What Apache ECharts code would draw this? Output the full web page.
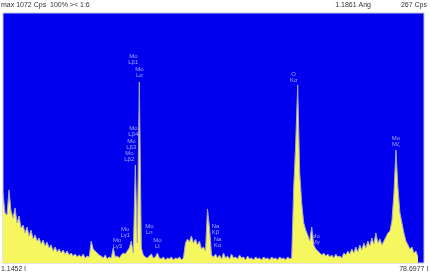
<!DOCTYPE html>
<html>
<head>
<meta charset="utf-8">
<script src="https://cdn.jsdelivr.net/npm/echarts@6/dist/echarts.min.js"></script>
<style>
html,body{margin:0;padding:0;background:#ffffff;}
#chart{width:430px;height:275px;}
</style>
</head>
<body>
<div id="chart"></div>
<script>
// Spectrum counts (Cps) per channel
const counts = [
 414,296,284,432,308,266,326,237,278,207,225,178,213,160,195,142,166,130,148,112,
 136,101,124,89,107,71,95,65,83,59,77,53,71,47,59,41,53,36,47,36,
 53,30,41,36,130,83,71,59,47,41,30,47,24,36,30,89,36,41,30,47,
 59,53,71,89,130,59,580,118,1072,89,47,36,30,41,53,30,36,59,30,24,
 36,18,30,24,36,18,30,24,36,18,30,118,142,124,160,118,142,107,130,83,
 95,71,320,207,47,36,53,30,47,24,59,30,41,24,53,30,36,24,47,30,
 36,18,41,24,30,18,36,24,30,18,36,24,30,18,36,24,30,18,36,24,
 30,18,36,24,30,444,710,1054,533,355,237,195,166,130,213,107,83,71,59,47,
 59,41,53,36,47,30,53,36,41,30,59,47,71,53,83,59,95,65,107,77,
 118,89,130,101,148,112,178,118,142,107,130,154,178,189,249,414,669,444,296,237,
 178,130,107,83,95,59,71,36
];
const channelCount = 211;

// Peak identification labels
const peakElements = ['Mo','Mo','Mo','Mo','Mo','Mo','Mo','Mo','Mo','Na','Na','O','Mo','Mo'];
const peakLines    = ['Lβ1','Lα','Lβ4','Lβ3','Lβ2','Lγ1','Lγ3','Ln','Ll','Kβ','Kα','Kα','Mγ','Mζ'];
const peakChannels = [65,68,65,64,63,61,57,73,77,106,107,145,156,196];
const peakLevels   = [1172,1095,746,669,598,148,83,166,83,166,89,1066,107,687];

// Header / footer texts
const headerLeft = 'max 1072 Cps  100% >< 1:6';
const headerCursor = '1.1861 Ang';
const headerCps = '267 Cps';
const rangeLabels = ['1.1452 l', '78.6977 l'];

const yMax = 1480;

const channels = Array.from({length: channelCount}, (_, i) => i);
const labelData = peakElements.map((el, k) => ({
  name: el + '\n' + peakLines[k],
  value: [peakChannels[k], peakLevels[k]]
}));

const chart = echarts.init(document.getElementById('chart'), null, {renderer: 'canvas'});
const textFont = '7px "Liberation Sans", Arial, sans-serif';
chart.setOption({
  animation: false,
  backgroundColor: '#ffffff',
  grid: {
    left: 3, top: 13, width: 421, height: 250,
    show: true, backgroundColor: '#0000ee',
    borderColor: '#c4c4d8', borderWidth: 1
  },
  xAxis: {
    type: 'category', data: channels, boundaryGap: false, show: false
  },
  yAxis: {
    type: 'value', min: 0, max: yMax, show: false
  },
  series: [
    {
      type: 'line', data: counts, symbol: 'none', silent: true,
      lineStyle: {color: '#a8a8c4', width: 1},
      areaStyle: {color: '#f6f65e', opacity: 1}
    },
    {
      type: 'scatter', data: labelData, symbolSize: 0, silent: true,
      label: {
        show: true, position: 'top', distance: 0,
        formatter: '{b}', color: '#c8d0ff',
        fontSize: 6, lineHeight: 6,
        fontFamily: '"Liberation Sans", Arial, sans-serif'
      }
    }
  ],
  graphic: [
    {type: 'text', left: 1, top: 2, style: {text: headerLeft, font: textFont, fill: '#333333'}},
    {type: 'text', right: 59, top: 2, style: {text: headerCursor, font: textFont, fill: '#333333'}},
    {type: 'text', right: 3, top: 2, style: {text: headerCps, font: textFont, fill: '#333333'}},
    {type: 'text', left: 1, top: 266, style: {text: rangeLabels[0], font: textFont, fill: '#333333'}},
    {type: 'text', right: 2, top: 266, style: {text: rangeLabels[1], font: textFont, fill: '#333333'}}
  ]
});
</script>
</body>
</html>
